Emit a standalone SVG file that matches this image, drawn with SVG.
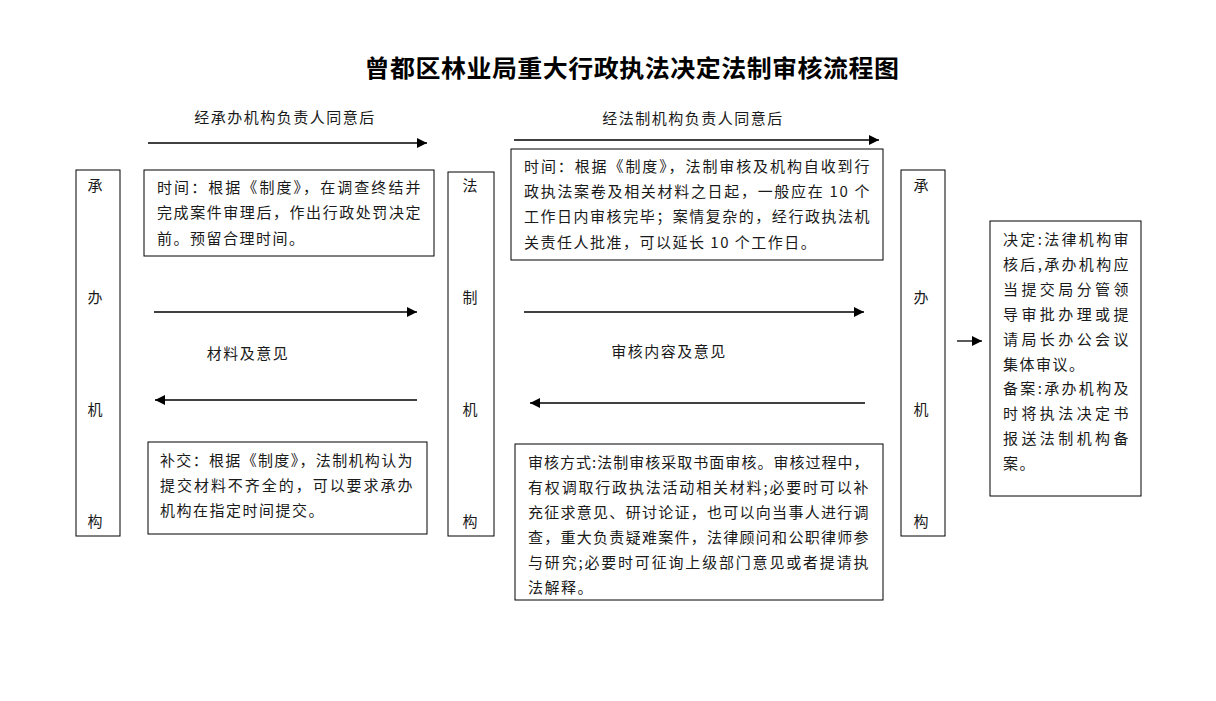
<svg xmlns="http://www.w3.org/2000/svg" width="1216" height="701" viewBox="0 0 1216 701">
<style>
text{font-family:"Noto Sans CJK SC","Noto Sans",sans-serif;font-size:15px;fill:#1a1a1a;letter-spacing:1.5px}
.t{font-size:24px;font-weight:bold;fill:#000;letter-spacing:0.5px}
.box{fill:#fff;stroke:#000;stroke-width:1}
.c{stroke:#000;stroke-width:1.3;fill:none;marker-end:url(#ah)}
.v{text-anchor:middle;letter-spacing:0}
</style>
<defs>
<marker id="ah" markerUnits="userSpaceOnUse" markerWidth="12" markerHeight="10" refX="10" refY="5" orient="auto"><path d="M0,0 L10,5 L0,10 Z" fill="#000"/></marker>
</defs>
<rect width="1216" height="701" fill="#fff"/>
<text class="t" x="632" y="77" text-anchor="middle" textLength="535" lengthAdjust="spacingAndGlyphs">曾都区林业局重大行政执法决定法制审核流程图</text>

<g id="connectors">
<line class="c" x1="148" y1="143" x2="427" y2="143"/>
<line class="c" x1="514" y1="140" x2="879" y2="140"/>
<line class="c" x1="154" y1="312" x2="417" y2="312"/>
<line class="c" x1="417" y1="400" x2="155" y2="400"/>
<line class="c" x1="524" y1="312" x2="864" y2="312"/>
<line class="c" x1="865" y1="403" x2="530" y2="403"/>
<line class="c" x1="957" y1="341" x2="982" y2="341"/>
<text x="285" y="123" text-anchor="middle" letter-spacing="0">经承办机构负责人同意后</text>
<text x="693" y="124" text-anchor="middle" letter-spacing="0">经法制机构负责人同意后</text>
<text x="248" y="359" text-anchor="middle" letter-spacing="0">材料及意见</text>
<text x="669" y="357" text-anchor="middle" letter-spacing="0">审核内容及意见</text>
</g>

<g id="node-chengban-left">
<rect class="box" x="76" y="170" width="44" height="366"/>
<text class="v" x="95" y="191">承</text>
<text class="v" x="95" y="303">办</text>
<text class="v" x="95" y="415">机</text>
<text class="v" x="95" y="527">构</text>
</g>

<g id="node-time1">
<rect class="box" x="144" y="170" width="290" height="86"/>
<text x="157" y="193" textLength="265" lengthAdjust="spacing">时间：根据《制度》，在调查终结并</text>
<text x="157" y="218" textLength="265" lengthAdjust="spacing">完成案件审理后，作出行政处罚决定</text>
<text x="157" y="244">前。预留合理时间。</text>
</g>

<g id="node-fazhi">
<rect class="box" x="448" y="172" width="46" height="364"/>
<text class="v" x="470" y="191">法</text>
<text class="v" x="470" y="303">制</text>
<text class="v" x="470" y="415">机</text>
<text class="v" x="470" y="527">构</text>
</g>

<g id="node-time2">
<rect class="box" x="511" y="149" width="372" height="111"/>
<text x="524" y="172" textLength="347" lengthAdjust="spacing">时间：根据《制度》，法制审核及机构自收到行</text>
<text x="524" y="197" textLength="347" lengthAdjust="spacing">政执法案卷及相关材料之日起，一般应在 10 个</text>
<text x="524" y="222" textLength="347" lengthAdjust="spacing">工作日内审核完毕；案情复杂的，经行政执法机</text>
<text x="524" y="248">关责任人批准，可以延长 10 个工作日。</text>
</g>

<g id="node-chengban-right">
<rect class="box" x="901" y="170" width="44" height="366"/>
<text class="v" x="921" y="191">承</text>
<text class="v" x="921" y="303">办</text>
<text class="v" x="921" y="415">机</text>
<text class="v" x="921" y="527">构</text>
</g>

<g id="node-bujiao">
<rect class="box" x="148" y="442" width="279" height="92"/>
<text x="160" y="466" textLength="254" lengthAdjust="spacing">补交：根据《制度》，法制机构认为</text>
<text x="160" y="491" textLength="254" lengthAdjust="spacing">提交材料不齐全的，可以要求承办</text>
<text x="160" y="516">机构在指定时间提交。</text>
</g>

<g id="node-shenhe">
<rect class="box" x="515" y="444" width="368" height="156"/>
<text x="528" y="468" textLength="342" lengthAdjust="spacing">审核方式:法制审核采取书面审核。审核过程中，</text>
<text x="528" y="493" textLength="342" lengthAdjust="spacing">有权调取行政执法活动相关材料;必要时可以补</text>
<text x="528" y="518" textLength="342" lengthAdjust="spacing">充征求意见、研讨论证，也可以向当事人进行调</text>
<text x="528" y="543" textLength="342" lengthAdjust="spacing">查，重大负责疑难案件，法律顾问和公职律师参</text>
<text x="528" y="568" textLength="342" lengthAdjust="spacing">与研究;必要时可征询上级部门意见或者提请执</text>
<text x="528" y="593">法解释。</text>
</g>

<g id="node-jueding">
<rect class="box" x="990" y="221" width="151" height="275"/>
<text x="1003" y="245" textLength="127" lengthAdjust="spacing">决定:法律机构审</text>
<text x="1003" y="270" textLength="127" lengthAdjust="spacing">核后,承办机构应</text>
<text x="1003" y="295" textLength="127" lengthAdjust="spacing">当提交局分管领</text>
<text x="1003" y="320" textLength="127" lengthAdjust="spacing">导审批办理或提</text>
<text x="1003" y="345" textLength="127" lengthAdjust="spacing">请局长办公会议</text>
<text x="1003" y="370">集体审议。</text>
<text x="1003" y="394" textLength="127" lengthAdjust="spacing">备案:承办机构及</text>
<text x="1003" y="419" textLength="127" lengthAdjust="spacing">时将执法决定书</text>
<text x="1003" y="444" textLength="127" lengthAdjust="spacing">报送法制机构备</text>
<text x="1003" y="469">案。</text>
</g>
</svg>
